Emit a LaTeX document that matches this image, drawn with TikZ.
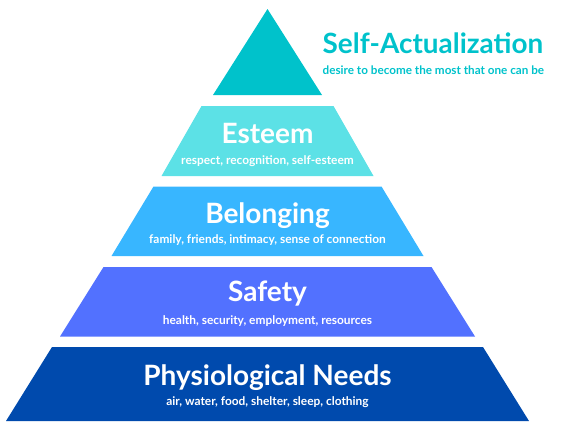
\documentclass[tikz,border=0pt]{standalone}
\usepackage{fontspec}
\setmainfont{Lato}
\definecolor{cTop}{HTML}{00C2CB}
\definecolor{cEst}{HTML}{5CE1E6}
\definecolor{cBel}{HTML}{38B6FF}
\definecolor{cSaf}{HTML}{5271FF}
\definecolor{cPhy}{HTML}{004AAD}
\tikzset{
  head/.style={text=white, font=\bfseries\fontsize{28}{30}\selectfont, anchor=base, inner sep=0pt},
  sub/.style={text=white, font=\bfseries\fontsize{11.9}{13}\selectfont, anchor=base, inner sep=0pt}
}
\begin{document}
\begin{tikzpicture}[x=1pt,y=-1pt]
\useasboundingbox (0,0) rectangle (575,431);
% top triangle
\fill[cTop] (267.5,9) -- (322,95) -- (213,95) -- cycle;
% esteem
\fill[cEst] (201.5,106) -- (333.5,106) -- (373.5,176) -- (161.5,176) -- cycle;
% belonging
\fill[cBel] (153.5,186.5) -- (381.5,186.5) -- (423.5,256) -- (111.5,256) -- cycle;
% safety
\fill[cSaf] (103.5,267) -- (431.5,267) -- (475,336.5) -- (60,336.5) -- cycle;
% physiological
\fill[cPhy] (52,347) -- (483,347) -- (529,421) -- (6,421) -- cycle;

\node[anchor=base west, inner sep=0pt, text=cTop, font=\bfseries\fontsize{27.9}{30}\selectfont] (sa) at (322.5,53.3) {Self-Actualization};
\node[anchor=base west, inner sep=0pt, text=cTop, font=\bfseries\fontsize{11.7}{13}\selectfont] (sas) at (322.5,74) {desire to become the most that one can be};

\node[head] (est) at (267.5,143.3) {Esteem};
\node[sub] (ests) at (267.5,164.3) {respect, recognition, self-esteem};
\node[head] (bel) at (267.5,223.3) {Belonging};
\node[sub] (bels) at (267.5,243.3) {family, friends, intimacy, sense of connection};
\node[head] (saf) at (267.5,301.7) {Safety};
\node[sub] (safs) at (267.5,324) {health, security, employment, resources};
\node[head] (phy) at (267.5,385) {Physiological Needs};
\node[sub] (phys) at (267.5,405.7) {air, water, food, shelter, sleep, clothing};
\end{tikzpicture}
\end{document}
